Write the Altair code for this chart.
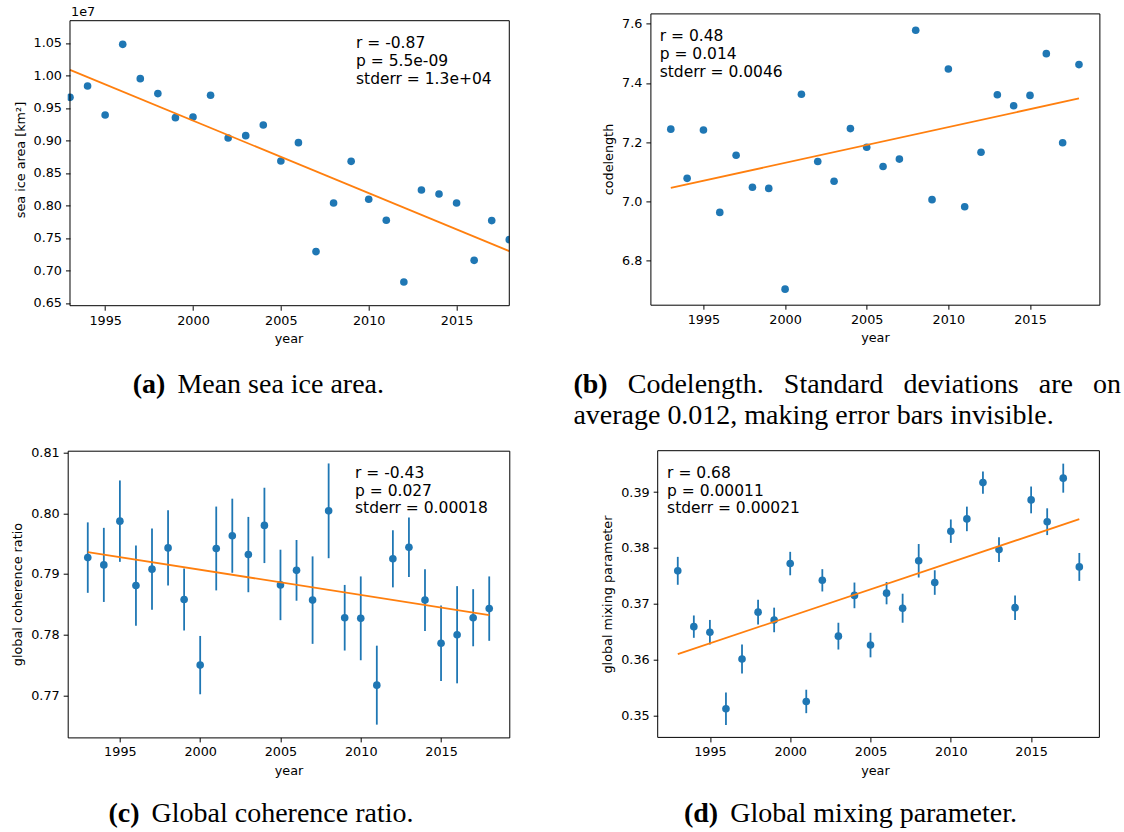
import altair as alt
import pandas as pd

# ---------------------------------------------------------------- data
years = list(range(1993, 2019))

sea_ice_area = [9664000, 9838000, 9392000, 10479000, 9951000, 9721000, 9351000,
                9362000, 9695000, 9038000, 9074000, 9238000, 8685000, 8967000,
                7290000, 8038000, 8679000, 8095000, 7772000, 6823000, 8238000,
                8177000, 8038000, 7156000, 7767000, 7474000]

codelength = [7.244, 7.078, 7.241, 6.963, 7.156, 7.048, 7.044, 6.704, 7.362,
              7.135, 7.068, 7.246, 7.183, 7.118, 7.143, 7.578, 7.006, 7.447,
              6.982, 7.166, 7.360, 7.323, 7.358, 7.499, 7.198, 7.462]

coherence = [0.7927, 0.7915, 0.7987, 0.7881, 0.7908, 0.7943, 0.7858, 0.7750,
             0.7942, 0.7963, 0.7932, 0.7980, 0.7882, 0.7906, 0.7857, 0.8004,
             0.7828, 0.7827, 0.7717, 0.7925, 0.7944, 0.7857, 0.7786, 0.7800,
             0.7828, 0.7843]
coherence_std = [0.0058, 0.0061, 0.0067, 0.0066, 0.0067, 0.0062, 0.0051, 0.0048,
                 0.0069, 0.0061, 0.0062, 0.0062, 0.0058, 0.0050, 0.0072, 0.0078,
                 0.0054, 0.0069, 0.0065, 0.0047, 0.0049, 0.0051, 0.0062, 0.0080,
                 0.0047, 0.0053]

mixing = [0.3759, 0.3659, 0.3649, 0.3512, 0.3601, 0.3685, 0.3671, 0.3772,
          0.3525, 0.3742, 0.3642, 0.3715, 0.3626, 0.3719, 0.3692, 0.3777,
          0.3738, 0.3830, 0.3852, 0.3917, 0.3797, 0.3693, 0.3886, 0.3847,
          0.3925, 0.3766]
mixing_std = [0.0025, 0.0020, 0.0022, 0.0029, 0.0026, 0.0022, 0.0022, 0.0021,
              0.0021, 0.0020, 0.0024, 0.0023, 0.0022, 0.0020, 0.0026, 0.0030,
              0.0022, 0.0021, 0.0022, 0.0020, 0.0022, 0.0022, 0.0024, 0.0024,
              0.0026, 0.0025]

year_ticks = [1995, 2000, 2005, 2010, 2015]
area_ticks = [6500000, 7000000, 7500000, 8000000, 8500000, 9000000, 9500000,
              10000000, 10500000]

stats_a = ["r = -0.87", "p = 5.5e-09", "stderr = 1.3e+04"]
stats_b = ["r = 0.48", "p = 0.014", "stderr = 0.0046"]
stats_c = ["r = -0.43", "p = 0.027", "stderr = 0.00018"]
stats_d = ["r = 0.68", "p = 0.00011", "stderr = 0.00021"]

BLUE = "#1f77b4"
ORANGE = "#ff7f0e"
SANS = "DejaVu Sans"
SERIF = "Liberation Serif"
CAP_SIZE = 28

one_row = pd.DataFrame({"k": [0]})


def extend(domain, span_px, inset_lo_px, inset_hi_px):
    """Widen a domain so the axes frame sits inset inside the view."""
    lo, hi = domain
    per_px = (hi - lo) / (span_px - inset_lo_px - inset_hi_px)
    return [lo - inset_lo_px * per_px, hi + inset_hi_px * per_px]


def panel(values, ytitle, ydomain, yticks, ylabel_expr, w, h, xdomain,
          stats, stats_x, stats_y, captions, std=None, clip=False,
          inset_left=0.0, inset_top=0.0, extra=None):
    df = pd.DataFrame({"year": years, "v": values})
    if std is not None:
        df["s"] = std
    xdom = extend(xdomain, w, inset_left, 0)
    ydom = extend(ydomain, h, 0, inset_top)
    xaxis = alt.Axis(values=year_ticks, format="d", title="year",
                     labelOverlap=False)
    yaxis = alt.Axis(values=yticks, labelExpr=ylabel_expr, title=ytitle,
                     offset=-inset_left, labelOverlap=False)
    xscale = alt.Scale(domain=xdom, nice=False, zero=False)
    yscale = alt.Scale(domain=ydom, nice=False, zero=False)

    base = alt.Chart(df)
    layers = []
    if std is not None:
        layers.append(
            base.transform_calculate(lo="datum.v - datum.s", hi="datum.v + datum.s")
            .mark_rule(color=BLUE, strokeWidth=1.8)
            .encode(x=alt.X("year:Q", scale=xscale, axis=xaxis),
                    y=alt.Y("lo:Q", scale=yscale, axis=yaxis), y2="hi:Q")
        )
    layers.append(
        base.mark_circle(size=58, color=BLUE, opacity=1, clip=clip)
        .encode(x=alt.X("year:Q", scale=xscale, axis=xaxis),
                y=alt.Y("v:Q", scale=yscale, axis=yaxis))
    )
    layers.append(
        base.transform_regression("year", "v", extent=[1993, 2018])
        .mark_line(color=ORANGE, strokeWidth=1.8, clip=clip)
        .encode(x=alt.X("year:Q", scale=xscale, axis=xaxis),
                y=alt.Y("v:Q", scale=yscale, axis=yaxis))
    )
    layers.append(
        alt.Chart(one_row)
        .mark_text(align="left", baseline="alphabetic", font=SANS,
                   fontSize=15.5, lineHeight=17.7, color="black")
        .encode(x=alt.value(stats_x), y=alt.value(stats_y), text=alt.value(stats))
    )
    for text, x, y, align, bold in captions:
        layers.append(
            alt.Chart(one_row)
            .mark_text(align=align, baseline="alphabetic", font=SERIF,
                       fontSize=CAP_SIZE, color="black",
                       fontWeight="bold" if bold else "normal")
            .encode(x=alt.value(x), y=alt.value(y), text=alt.value(text))
        )
    if extra:
        layers.extend(extra)

    props = dict(width=w, height=h)
    if inset_left or inset_top:
        # axes frame drawn inside the view
        layers.append(
            alt.Chart(one_row)
            .mark_rect(fillOpacity=0, stroke="black", strokeWidth=1)
            .encode(x=alt.value(inset_left), x2=alt.value(w),
                    y=alt.value(inset_top), y2=alt.value(h))
        )
        props["view"] = alt.ViewBackground(stroke="transparent")
    return alt.layer(*layers).properties(**props)


# (a) mean sea ice area
offset_label = (
    alt.Chart(one_row)
    .mark_text(align="left", baseline="alphabetic", font=SANS, fontSize=12.8,
               color="black")
    .encode(x=alt.value(3.3), y=alt.value(2.8), text=alt.value("1e7"))
)
chart_a = panel(
    sea_ice_area, "sea ice area [km²]", [6458000, 10843000], area_ticks,
    "format(datum.value / 1e7, '.2f')", 441.6, 292.3, [1993, 2018],
    stats_a, 288.3, 35,
    [("(a)", 97.7, 379.3, "right", True),
     ("Mean sea ice area.", 109.7, 379.3, "left", False)],
    clip=True, inset_left=2.3, inset_top=7.3, extra=[offset_label],
)

# (b) codelength; the first caption line is spread across the full width
chart_b = panel(
    codelength, "codelength", [6.6515, 7.6348], [6.8, 7.0, 7.2, 7.4, 7.6],
    "format(datum.value, '.1f')", 449, 291.3, [1991.75, 2019.25],
    stats_b, 9.3, 28,
    [("(b)", -77, 379.3, "left", True),
     ("Codelength.", 45.4, 379.3, "center", False),
     ("Standard", 183.2, 379.3, "center", False),
     ("deviations", 310.7, 379.3, "center", False),
     ("are", 405.4, 379.3, "center", False),
     ("on", 470.7, 379.3, "right", False),
     ("average 0.012, making error bars invisible.", -77, 410.3, "left", False)],
)

# (c) global coherence ratio
chart_c = panel(
    coherence, "global coherence ratio", [0.7631, 0.8103],
    [0.77, 0.78, 0.79, 0.80, 0.81], "format(datum.value, '.2f')",
    441.6, 286.7, [1991.75, 2019.25], stats_c, 287.3, 27.4,
    [("(c)", 71.9, 371.7, "right", True),
     ("Global coherence ratio.", 83.9, 371.7, "left", False)],
    std=coherence_std,
)

# (d) global mixing parameter
chart_d = panel(
    mixing, "global mixing parameter", [0.34606, 0.39742],
    [0.35, 0.36, 0.37, 0.38, 0.39], "format(datum.value, '.2f')",
    449, 286.7, [1991.75, 2019.25], stats_d, 16.7, 27.4,
    [("(d)", 67.8, 371.7, "right", True),
     ("Global mixing parameter.", 79.8, 371.7, "left", False)],
    std=mixing_std, inset_left=7.3,
)

# ---------------------------------------------------------------- layout
chart = (
    alt.concat(chart_a, chart_b, chart_c, chart_d, columns=2,
               spacing={"row": 144.3, "column": 140.7},
               bounds="flush", align="each")
    .properties(padding={"left": 10.7, "top": 5.4, "right": 0, "bottom": 0},
                background="white")
    .configure_view(stroke="black", strokeWidth=1)
    .configure_axis(
        labelFont=SANS, labelFontSize=12.8, labelColor="black",
        titleFont=SANS, titleFontSize=12.8, titleFontWeight="normal",
        titleColor="black", domain=False, labelOverlap=False,
        tickColor="black", tickSize=4.5, tickWidth=1, grid=False,
        labelPadding=4, titlePadding=6,
    )
)

chart.save("out.html", embed_options={"renderer": "svg", "actions": False})
